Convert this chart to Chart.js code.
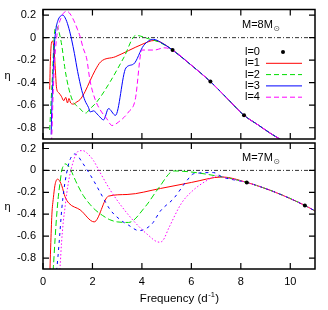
<!DOCTYPE html>
<html>
<head>
<meta charset="utf-8">
<script src="https://cdn.jsdelivr.net/npm/chart.js@4"></script>
<style>
  html, body { margin: 0; padding: 0; background: #fff; }
  #wrap { position: relative; width: 328px; height: 310px; }
  .panel { position: absolute; left: 0; width: 328px; }
</style>
</head>
<body>
<div id="wrap">
  <div class="panel" style="top:0;height:150px"><canvas id="chart-top"></canvas></div>
  <div class="panel" style="top:139px;height:171px"><canvas id="chart-bottom"></canvas></div>
</div>
<script>
const FONT = "'Liberation Sans', Arial, 'DejaVu Sans', sans-serif";
const xTicks = [0, 2, 4, 6, 8, 10];
const yTicks = [-0.8, -0.6, -0.4, -0.2, 0, 0.2];
const legendLabels = ['l=0', 'l=1', 'l=2', 'l=3', 'l=4'];
const zeroLine = [[0, 0], [11, 0]];

// upper panel, M = 8 Msun
const topL0 = [[5.24, -0.11], [6.77, -0.39], [8.13, -0.69]];
const topTail = [[5.24, -0.11], [6.0, -0.245], [6.77, -0.39], [7.45, -0.54], [8.13, -0.69], [8.7, -0.775], [9.2, -0.85], [9.65, -0.91]];
const topL1 = [[0.27, -0.46], [0.3, -0.2], [0.34, -0.05], [0.39, -0.03], [0.44, -0.09], [0.49, -0.25], [0.55, -0.45], [0.64, -0.49], [0.74, -0.52], [0.84, -0.56], [0.92, -0.53], [0.99, -0.58], [1.05, -0.54], [1.12, -0.58], [1.23, -0.59], [1.37, -0.57], [1.5, -0.55], [1.7, -0.48], [1.91, -0.38], [2.11, -0.29], [2.33, -0.215], [2.92, -0.17], [3.46, -0.115], [4.0, -0.06], [4.5, -0.025], [4.75, -0.04]];
const topL2 = [[0.27, -0.82], [0.32, -0.6], [0.39, -0.3], [0.45, 0.0], [0.53, 0.105], [0.59, 0.09], [0.66, 0.04], [0.76, -0.07], [0.89, -0.28], [1.03, -0.44], [1.2, -0.56], [1.45, -0.62], [1.72, -0.67], [1.91, -0.63], [2.18, -0.57], [2.72, -0.39], [3.26, -0.18], [3.76, 0.02], [4.27, -0.01], [4.7, -0.04]];
const topL3 = [[0.33, -0.86], [0.36, -0.6], [0.4, -0.38], [0.45, -0.1], [0.52, 0.07], [0.6, 0.15], [0.7, 0.19], [0.8, 0.2], [0.93, 0.16], [1.05, 0.08], [1.16, -0.02], [1.27, -0.14], [1.4, -0.3], [1.57, -0.47], [1.7, -0.56], [1.84, -0.62], [1.91, -0.66], [2.04, -0.65], [2.24, -0.69], [2.45, -0.73], [2.65, -0.63], [2.93, -0.69], [3.35, -0.27], [3.66, -0.235], [4.07, -0.07], [4.47, -0.015], [4.75, -0.04]];
const topL4 = [[0.33, -1.0], [0.36, -0.85], [0.41, -0.5], [0.46, -0.25], [0.55, 0.0], [0.62, 0.1], [0.72, 0.17], [0.82, 0.215], [0.96, 0.235], [1.1, 0.21], [1.25, 0.15], [1.4, 0.07], [1.5, 0.01], [1.62, -0.09], [1.77, -0.19], [1.9, -0.38], [2.11, -0.55], [2.31, -0.64], [2.58, -0.72], [2.79, -0.78], [3.05, -0.75], [3.46, -0.66], [3.73, -0.55], [4.0, -0.11], [4.5, -0.11], [4.9, -0.09]];

// lower panel, M = 7 Msun
const botL0 = [[8.24, -0.11], [10.59, -0.32]];
const botTail = [[7.25, -0.06], [8.24, -0.11], [9.4, -0.2], [10.59, -0.32], [11.0, -0.37]];
const botL1 = [[0.27, -1.0], [0.31, -0.7], [0.36, -0.4], [0.42, -0.25], [0.48, -0.14], [0.54, -0.09], [0.6, -0.08], [0.68, -0.1], [0.76, -0.14], [0.89, -0.24], [1.05, -0.3], [1.5, -0.36], [2.07, -0.47], [2.65, -0.235], [3.4, -0.22], [4.75, -0.165], [6.0, -0.11]];
const botL2 = [[0.38, -1.0], [0.42, -0.88], [0.49, -0.62], [0.55, -0.42], [0.62, -0.24], [0.69, -0.11], [0.76, 0.0], [0.82, 0.04], [0.89, 0.06], [0.98, 0.05], [1.1, 0.015], [1.23, -0.05], [1.37, -0.12], [1.63, -0.23], [1.9, -0.31], [2.11, -0.36], [2.4, -0.41], [2.7, -0.45], [3.0, -0.47], [3.46, -0.475], [4.14, -0.33], [4.68, -0.16], [5.29, -0.005]];
const botL3 = [[0.52, -0.98], [0.6, -0.8], [0.68, -0.58], [0.76, -0.35], [0.85, -0.17], [0.95, -0.03], [1.05, 0.07], [1.15, 0.125], [1.27, 0.15], [1.4, 0.135], [1.55, 0.085], [1.77, 0.01], [2.04, -0.09], [2.31, -0.2], [2.72, -0.36], [3.12, -0.45], [3.46, -0.5], [3.88, -0.55], [4.4, -0.49], [4.75, -0.37], [5.29, -0.255], [5.83, -0.09], [6.1, -0.03], [6.9, -0.02]];
const botL4 = [[0.65, -1.0], [0.69, -0.88], [0.75, -0.66], [0.82, -0.47], [0.9, -0.32], [0.96, -0.21], [1.06, -0.07], [1.16, 0.03], [1.3, 0.13], [1.47, 0.18], [1.62, 0.18], [1.77, 0.16], [2.04, 0.09], [2.31, -0.02], [2.72, -0.18], [3.12, -0.31], [3.66, -0.46], [4.2, -0.58], [4.7, -0.655], [4.85, -0.64], [5.1, -0.52], [5.6, -0.3], [6.03, -0.19], [6.57, -0.1], [7.05, -0.05]];

const pts = (a) => a.map(([x, y]) => ({ x, y }));

// order: smaller = drawn on top (l=4 over l=1, dots over everything)
function line(label, data, color, dash, order) {
  return { label, data: pts(data), order, borderColor: color, backgroundColor: color, borderWidth: 1, borderDash: dash, pointRadius: 0, fill: false, cubicInterpolationMode: 'monotone' };
}
function dots(label, data) {
  return { label, data: pts(data), order: 0, showLine: false, pointRadius: 2, pointBackgroundColor: '#000', pointBorderWidth: 0, borderColor: '#000', backgroundColor: '#000' };
}
function axisLine(data) {
  return { label: 'zero', data: pts(data), order: 9, borderColor: '#333', borderWidth: 1, borderDash: [4, 2, 1, 2], pointRadius: 0, fill: false };
}

// border, inward ticks, eta, mass label, legend, x title
const frame = {
  id: 'frame',
  afterDraw(chart, args, o) {
    const { ctx, chartArea: a, scales: { x, y } } = chart;
    ctx.save();
    ctx.strokeStyle = '#000';
    ctx.lineWidth = 1.5;
    ctx.strokeRect(a.left, a.top, a.right - a.left, a.bottom - a.top);
    ctx.lineWidth = 1.2;
    ctx.beginPath();
    xTicks.forEach((v) => {
      const p = x.getPixelForValue(v);
      ctx.moveTo(p, a.bottom); ctx.lineTo(p, a.bottom - 6);
      ctx.moveTo(p, a.top); ctx.lineTo(p, a.top + 6);
    });
    yTicks.forEach((v) => {
      const p = y.getPixelForValue(v);
      ctx.moveTo(a.left, p); ctx.lineTo(a.left + 6, p);
      ctx.moveTo(a.right, p); ctx.lineTo(a.right - 6, p);
    });
    ctx.stroke();

    ctx.fillStyle = '#000';
    ctx.textBaseline = 'middle';
    ctx.textAlign = 'center';
    ctx.font = '11px ' + FONT;
    ctx.fillText('η', 7.5, o.etaY);

    // M=xM(sun)
    ctx.textAlign = 'left';
    const mt = 'M=' + o.mass + 'M';
    ctx.fillText(mt, 242, o.massY);
    const mw = ctx.measureText(mt).width;
    ctx.font = "8px 'DejaVu Sans', sans-serif";
    ctx.fillStyle = '#555';
    ctx.fillText('⊙', 242 + mw + 0.5, o.massY + 4);
    ctx.fillStyle = '#000';

    if (o.legend) {
      const byLabel = Object.fromEntries(chart.data.datasets.map((d) => [d.label, d]));
      legendLabels.forEach((lab, i) => {
        const d = byLabel[lab];
        const ly = 52 + 11.3 * i;
        ctx.font = '11px ' + FONT;
        ctx.textAlign = 'left';
        ctx.fillStyle = '#000';
        ctx.fillText(lab, 245, ly);
        if (i === 0) {
          ctx.beginPath(); ctx.arc(283, ly, 2, 0, Math.PI * 2); ctx.fill();
        } else {
          ctx.strokeStyle = d.borderColor;
          ctx.lineWidth = 1;
          ctx.setLineDash(d.borderDash || []);
          ctx.beginPath(); ctx.moveTo(266, ly); ctx.lineTo(302, ly); ctx.stroke();
          ctx.setLineDash([]);
        }
      });
    }

    if (o.xTitle) {
      ctx.font = '11.5px ' + FONT;
      const t1 = 'Frequency (d', t2 = '-1', t3 = ')';
      const w1 = ctx.measureText(t1).width, w3 = ctx.measureText(t3).width;
      ctx.font = '7.5px ' + FONT;
      const w2 = ctx.measureText(t2).width;
      const sx = (a.left + a.right) / 2 - (w1 + w2 + w3) / 2;
      const ty = a.bottom + 30;
      ctx.textAlign = 'left';
      ctx.font = '11.5px ' + FONT;
      ctx.fillText(t1, sx, ty);
      ctx.font = '7.5px ' + FONT;
      ctx.fillText(t2, sx + w1 + 0.5, ty - 4);
      ctx.font = '11.5px ' + FONT;
      ctx.fillText(t3, sx + w1 + w2 + 1, ty);
    }
    ctx.restore();
  },
};

function noPad(s) {
  s.paddingTop = 0; s.paddingBottom = 0; s.paddingLeft = 0; s.paddingRight = 0;
}

function scales(showX) {
  const tickFont = { family: FONT, size: 11 };
  return {
    x: {
      type: 'linear', min: 0, max: 11, display: showX,
      grid: { display: false, drawTicks: false }, border: { display: false },
      afterBuildTicks: (s) => { s.ticks = xTicks.map((v) => ({ value: v })); },
      afterFit: (s) => { noPad(s); s.height = showX ? 41 : 0; },
      ticks: { color: '#000', font: tickFont, padding: 6, maxRotation: 0, callback: (v) => String(v) },
    },
    y: {
      type: 'linear', min: -0.9, max: 0.25,
      grid: { display: false, drawTicks: false }, border: { display: false },
      afterBuildTicks: (s) => { s.ticks = yTicks.map((v) => ({ value: v })); },
      afterFit: (s) => { noPad(s); s.width = 43; },
      ticks: { color: '#000', font: tickFont, padding: 7, callback: (v) => (Math.abs(v) < 1e-9 ? '0' : v.toFixed(1)) },
    },
  };
}

function opts(showX, frameOpts, pad) {
  return {
    responsive: true, maintainAspectRatio: false, animation: false, events: [],
    layout: { padding: pad },
    plugins: { legend: { display: false }, tooltip: { enabled: false }, frame: frameOpts },
    scales: scales(showX),
  };
}

new Chart(document.getElementById('chart-top'), {
  type: 'line',
  data: {
    datasets: [
      dots('l=0', topL0),
      line('l=1', topL1.concat(topTail), '#ff0000', [], 4),
      line('l=2', topL2.concat(topTail), '#00dd00', [5, 3], 3),
      line('l=3', topL3.concat(topTail), '#0000ff', [], 2),
      line('l=4', topL4.concat(topTail), '#ff00ff', [5, 3], 1),
      axisLine(zeroLine),
    ],
  },
  options: opts(false, { mass: '8', massY: 25, etaY: 76, legend: true }, { top: 9.5, right: 13, bottom: 11, left: 0 }),
  plugins: [frame],
});

new Chart(document.getElementById('chart-bottom'), {
  type: 'line',
  data: {
    datasets: [
      dots('l=0', botL0),
      line('l=1', botL1.concat(botTail), '#ff0000', [], 4),
      line('l=2', botL2.concat(botTail), '#00dd00', [6, 3], 3),
      line('l=3', botL3.concat(botTail), '#0000ff', [3, 4], 2),
      line('l=4', botL4.concat(botTail), '#ff00ff', [1.5, 2], 1),
      axisLine(zeroLine),
    ],
  },
  options: opts(true, { mass: '7', massY: 19, etaY: 68, legend: false, xTitle: true }, { top: 1, right: 13, bottom: 0, left: 0 }),
  plugins: [frame],
});
</script>
</body>
</html>
